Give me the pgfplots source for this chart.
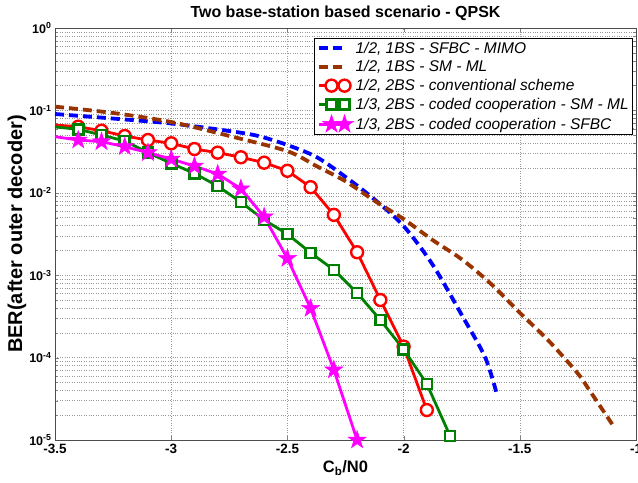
\documentclass[border=0pt]{standalone}
\usepackage{fontspec}
\setmainfont{Liberation Sans}
\usepackage{pgfplots}
\pgfplotsset{compat=1.18}
\usetikzlibrary{plotmarks}
\definecolor{brownc}{RGB}{153,51,0}
\definecolor{greenc}{RGB}{0,128,0}
\definecolor{magc}{RGB}{255,0,255}
\definecolor{bluec}{RGB}{0,0,255}
\definecolor{redc}{RGB}{255,0,0}
\pgfdeclareplotmark{fstar}{%
 \pgfpathmoveto{\pgfpointpolar{90}{\pgfplotmarksize}}%
 \pgfpathlineto{\pgfpointpolar{126}{0.39\pgfplotmarksize}}%
 \pgfpathlineto{\pgfpointpolar{162}{\pgfplotmarksize}}%
 \pgfpathlineto{\pgfpointpolar{198}{0.39\pgfplotmarksize}}%
 \pgfpathlineto{\pgfpointpolar{234}{\pgfplotmarksize}}%
 \pgfpathlineto{\pgfpointpolar{270}{0.39\pgfplotmarksize}}%
 \pgfpathlineto{\pgfpointpolar{306}{\pgfplotmarksize}}%
 \pgfpathlineto{\pgfpointpolar{342}{0.39\pgfplotmarksize}}%
 \pgfpathlineto{\pgfpointpolar{18}{\pgfplotmarksize}}%
 \pgfpathlineto{\pgfpointpolar{54}{0.39\pgfplotmarksize}}%
 \pgfpathclose\pgfusepathqfillstroke}
\begin{document}
\begin{tikzpicture}
\begin{axis}[
  width=581pt, height=412pt, scale only axis,
  ymode=log,
  xmin=-3.5, xmax=-1, ymin=1e-5, ymax=1,
  xtick={-3.5,-3,-2.5,-2,-1.5,-1},
  xticklabels={\textbf{-3.5},\textbf{-3},\textbf{-2.5},\textbf{-2},\textbf{-1.5},\textbf{-1}},
  ytick={1e-5,1e-4,1e-3,1e-2,1e-1,1},
  yticklabels={\textbf{10}\textsuperscript{\textbf{-5}},\textbf{10}\textsuperscript{\textbf{-4}},\textbf{10}\textsuperscript{\textbf{-3}},\textbf{10}\textsuperscript{\textbf{-2}},\textbf{10}\textsuperscript{\textbf{-1}},\textbf{10}\textsuperscript{\textbf{0}}},
  xticklabel style={font=\fontsize{13.5}{15}\selectfont, yshift=-1pt},
  yticklabel style={font=\fontsize{12.5}{14}\selectfont},
  tick align=inside,
  grid=both,
  major grid style={dotted, gray!80, line width=0.5pt},
  minor grid style={dotted, gray!80, line width=0.5pt},
  minor x tick num=0,
  axis line style={gray!60!black, line width=0.6pt},
  title={\textbf{Two base-station based scenario - QPSK}},
  title style={font=\fontsize{16}{18}\selectfont, at={(0.5,1)}, anchor=base, yshift=5pt},
  xlabel={\textbf{C\textsubscript{b}/N0}},
  ylabel={\textbf{BER(after outer decoder)}},
  xlabel style={font=\fontsize{16.5}{18}\selectfont, yshift=0pt},
  ylabel style={font=\fontsize{20}{22}\selectfont, at={(axis description cs:0,0.5)}, anchor=center, yshift=38pt},
  clip=false,
  legend style={at={(0.9948,0.9757)}, anchor=north east, draw=black, line width=0.6pt,
    font=\fontsize{15.5}{18}\selectfont\itshape, row sep=2pt, inner xsep=2pt, inner ysep=1.5pt},
  legend cell align=left,
  legend image code/.code={\draw[#1] plot coordinates {(0pt,0pt) (13pt,0pt) (26pt,0pt)};},
]
\addplot[bluec, line width=3.8pt, dash pattern=on 9pt off 5pt, smooth, tension=0.5] coordinates {
(-3.5,0.0904) (-3.25,0.0797) (-3.0,0.0694) (-2.75,0.0562) (-2.625,0.0489) (-2.5,0.038) (-2.375,0.0272) (-2.25,0.0156) (-2.125,0.0083) (-2.0,0.00395) (-1.875,0.00134) (-1.75,3.3e-4) (-1.65,1.02e-4) (-1.6,3.7e-5)};
\addlegendentry{1/2, 1BS - SFBC - MIMO}
\addplot[brownc, line width=3.8pt, dash pattern=on 9pt off 5pt, smooth, tension=0.5] coordinates {
(-3.5,0.111) (-3.25,0.093) (-3.0,0.0723) (-2.75,0.049) (-2.5,0.032) (-2.375,0.0211) (-2.25,0.0138) (-2.125,0.0080) (-2.0,0.0048) (-1.875,0.00267) (-1.75,0.00156) (-1.625,7.9e-4) (-1.5,3.5e-4) (-1.375,1.59e-4) (-1.25,6.4e-5) (-1.2,4.0e-5) (-1.1,1.52e-5)};
\addlegendentry{1/2, 1BS - SM - ML}
\addplot[redc, line width=2.8pt, mark=*, mark size=6pt, mark options={fill=white, line width=2.4pt, solid}, mark indices={2,...,17}] coordinates {
(-3.5,0.0665) (-3.4,0.0634) (-3.3,0.0567) (-3.2,0.0489) (-3.1,0.0437) (-3.0,0.0399) (-2.9,0.034) (-2.8,0.0307) (-2.7,0.027) (-2.6,0.0232) (-2.5,0.0185) (-2.4,0.0117) (-2.3,0.0054) (-2.2,0.0019) (-2.1,5.0e-4) (-2.0,1.36e-4) (-1.9,2.31e-5)};
\addlegendentry{1/2, 2BS - conventional scheme}
\addplot[greenc, line width=2.8pt, mark=square*, mark size=5pt, mark options={fill=white, line width=2.6pt, solid}, mark indices={2,...,18}] coordinates {
(-3.5,0.063) (-3.4,0.059) (-3.3,0.0503) (-3.2,0.0425) (-3.1,0.0307) (-3.0,0.0228) (-2.9,0.0172) (-2.8,0.0121) (-2.7,0.0077) (-2.6,0.00468) (-2.5,0.00316) (-2.4,0.00187) (-2.3,0.00116) (-2.2,6.1e-4) (-2.1,2.86e-4) (-2.0,1.26e-4) (-1.9,4.8e-5) (-1.8,1.12e-5)};
\addlegendentry{1/3, 2BS - coded cooperation - SM - ML}
\addplot[magc, line width=2.8pt, mark=fstar, mark size=9.5pt, mark options={fill=magc, line width=0.5pt, solid}, mark indices={2,...,14}] coordinates {
(-3.5,0.048) (-3.4,0.0437) (-3.3,0.0417) (-3.2,0.0363) (-3.1,0.0307) (-3.0,0.0257) (-2.9,0.0211) (-2.8,0.0169) (-2.7,0.0112) (-2.6,0.0051) (-2.5,0.0016) (-2.4,3.96e-4) (-2.3,7.1e-5) (-2.2,1.0e-5)};
\addlegendentry{1/3, 2BS - coded cooperation - SFBC}
\end{axis}
\pgfresetboundingbox
\useasboundingbox ([xshift=-55pt,yshift=-42pt]current axis.south west) rectangle ([xshift=2pt,yshift=28pt]current axis.north east);
\end{tikzpicture}
\end{document}
